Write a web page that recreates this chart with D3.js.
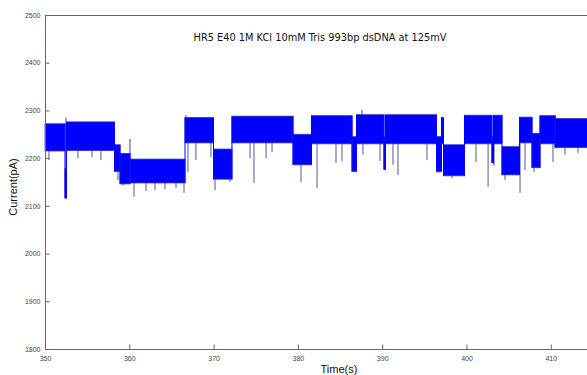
<!DOCTYPE html>
<html>
<head>
<meta charset="utf-8">
<script src="https://cdn.jsdelivr.net/npm/d3@7"></script>
<style>
    html, body { margin: 0; padding: 0; background: #fff; }
    svg { display: block; }
</style>
</head>
<body>
<div id="chart"></div>
<script>
// tick labels
const xTicks = [350, 360, 370, 380, 390, 400, 410];
const yTicks = [1800, 1900, 2000, 2100, 2200, 2300, 2400, 2500];

// current levels: each one runs from its start time to the next start (last one to traceEnd)
const levelStarts = [350.0, 352.37, 352.55, 358.24, 358.90, 360.08, 366.61, 369.99, 372.18, 379.42,
    381.61, 386.42, 386.95, 390.21, 390.39, 396.44, 397.03, 397.27, 399.76, 403.02,
    403.20, 404.21, 406.29, 407.77, 408.72, 410.50];
const traceEnd = 415;
const levelTops = [2272, 2178, 2276, 2228, 2210, 2198, 2285, 2219, 2288, 2250,
    2289, 2245, 2291, 2245, 2291, 2245, 2285, 2228, 2290, 2245,
    2290, 2224, 2286, 2252, 2289, 2283];
const levelBottoms = [2215, 2116, 2216, 2172, 2146, 2148, 2232, 2156, 2232, 2186,
    2230, 2172, 2230, 2176, 2230, 2172, 2230, 2163, 2230, 2190,
    2230, 2165, 2232, 2180, 2230, 2222];

// spikes that stick out of the band
const downSpikeTimes = [350.47, 353.91, 355.58, 356.64, 358.66, 359.25, 360.56, 361.98, 363.05, 364.23,
    365.54, 366.49, 366.96, 367.91, 369.69, 370.17, 371.95, 374.32, 374.79, 376.22,
    376.93, 380.37, 382.27, 384.52, 385.23, 387.72, 389.74, 391.28, 391.87, 395.31,
    396.62, 398.28, 401.13, 402.56, 403.27, 404.57, 406.35, 406.94, 408.01, 410.26,
    411.68, 413.23];
const downSpikeValues = [2196, 2200, 2202, 2196, 2154, 2142, 2119, 2131, 2133, 2135,
    2137, 2127, 2171, 2196, 2202, 2133, 2150, 2200, 2148, 2200,
    2213, 2150, 2137, 2190, 2194, 2207, 2194, 2186, 2165, 2196,
    2169, 2158, 2192, 2140, 2184, 2154, 2127, 2175, 2171, 2192,
    2207, 2211];
const upSpikeTimes = [352.49, 360.08, 366.73, 387.60, 410.50];
const upSpikeValues = [2285, 2240, 2290, 2301, 2290];

const title = "HR5 E40 1M KCl 10mM Tris 993bp dsDNA at 125mV";

class TraceChart
{
    constructor(selector)
    {
        this.width = 587;
        this.height = 375;
        this.frame = { left: 45, top: 15, bottom: 349 };
        this.pxPerSecond = 8.43;

        this.svg = d3.select(selector).append("svg")
            .attr("width", this.width)
            .attr("height", this.height);
        this.svg.append("rect")
            .attr("width", this.width)
            .attr("height", this.height)
            .attr("fill", "#fff");

        this.x = d3.scaleLinear()
            .domain([350, 420])
            .range([this.frame.left, this.frame.left + 70 * this.pxPerSecond]);
        this.y = d3.scaleLinear()
            .domain([1800, 2500])
            .range([this.frame.bottom, this.frame.top]);
    }

    draw()
    {
        this._initLevels();
        this._drawTrace();
        this._drawAxes();
        this._drawLabels();
    }

    _initLevels()
    {
        this.levels = levelStarts.map((t, i) => ({
            t0: t,
            t1: i + 1 < levelStarts.length ? levelStarts[i + 1] : traceEnd,
            top: levelTops[i],
            bottom: levelBottoms[i]
        }));
    }

    // level that is active at time t
    _levelAt(t)
    {
        const i = d3.bisectRight(levelStarts, t) - 1;
        return this.levels[Math.max(0, i)];
    }

    _drawTrace()
    {
        const g = this.svg.append("g").classed("trace", true);
        const levels = this.levels;

        // hair-like spikes below / above the dense band
        g.selectAll("line.down")
            .data(downSpikeTimes.map((t, i) => [t, downSpikeValues[i]]))
            .join("line")
            .attr("class", "down")
            .attr("x1", d => this.x(d[0]))
            .attr("x2", d => this.x(d[0]))
            .attr("y1", d => this.y(this._levelAt(d[0]).bottom + 10))
            .attr("y2", d => this.y(d[1]))
            .attr("stroke", "#55559c")
            .attr("stroke-width", 1);

        g.selectAll("line.up")
            .data(upSpikeTimes.map((t, i) => [t, upSpikeValues[i]]))
            .join("line")
            .attr("class", "up")
            .attr("x1", d => this.x(d[0]))
            .attr("x2", d => this.x(d[0]))
            .attr("y1", d => this.y(this._levelAt(d[0]).bottom + 10))
            .attr("y2", d => this.y(d[1]))
            .attr("stroke", "#3a3ab8")
            .attr("stroke-width", 1);

        g.selectAll("rect.level")
            .data(levels)
            .join("rect")
            .attr("class", "level")
            .attr("x", d => this.x(d.t0))
            .attr("width", d => Math.max(this.x(d.t1) - this.x(d.t0), 1))
            .attr("y", d => this.y(d.top))
            .attr("height", d => this.y(d.bottom) - this.y(d.top))
            .attr("fill", "#0000ff")
            .attr("stroke", "#3030c4")
            .attr("stroke-width", 0.8);

        // the signal jumps between levels
        g.selectAll("line.jump")
            .data(levels.slice(1).map((d, i) => [levels[i], d]))
            .join("line")
            .attr("class", "jump")
            .attr("x1", d => this.x(d[1].t0))
            .attr("x2", d => this.x(d[1].t0))
            .attr("y1", d => this.y(Math.max(d[0].top, d[1].top)))
            .attr("y2", d => this.y(Math.min(d[0].bottom, d[1].bottom)))
            .attr("stroke", "#0000ff")
            .attr("stroke-width", 1);
    }

    _drawAxes()
    {
        const axisColor = "#666";

        const xAxis = d3.axisBottom(this.x)
            .tickValues(xTicks)
            .tickFormat(d3.format("d"))
            .tickSizeInner(-4.5)
            .tickSizeOuter(0)
            .tickPadding(7);
        const gx = this.svg.append("g")
            .attr("transform", `translate(0, ${this.frame.bottom})`)
            .call(xAxis);

        const yAxis = d3.axisLeft(this.y)
            .tickValues(yTicks)
            .tickFormat(d3.format("d"))
            .tickSizeInner(-4.5)
            .tickSizeOuter(0)
            .tickPadding(4.5);
        const gy = this.svg.append("g")
            .attr("transform", `translate(${this.frame.left}, 0)`)
            .call(yAxis);

        [gx, gy].forEach(ax => {
            ax.select(".domain").attr("stroke", axisColor);
            ax.selectAll(".tick line").attr("stroke", axisColor);
            ax.selectAll(".tick text")
                .attr("fill", "#444")
                .style("font-family", "'Liberation Sans', Arial, sans-serif")
                .style("font-size", "7px");
        });

        // top border of the box
        this.svg.append("line")
            .attr("x1", this.frame.left)
            .attr("x2", this.width)
            .attr("y1", this.frame.top + 0.5)
            .attr("y2", this.frame.top + 0.5)
            .attr("stroke", axisColor);
    }

    _drawLabels()
    {
        this.svg.append("text")
            .attr("x", 320)
            .attr("y", 41)
            .attr("text-anchor", "middle")
            .style("font-family", "'DejaVu Sans', Verdana, sans-serif")
            .style("font-size", "9.8px")
            .attr("fill", "#111")
            .text(title);

        this.svg.append("text")
            .attr("x", 339)
            .attr("y", 373)
            .attr("text-anchor", "middle")
            .style("font-family", "'Liberation Sans', Arial, sans-serif")
            .style("font-size", "11px")
            .attr("fill", "#111")
            .text("Time(s)");

        this.svg.append("text")
            .attr("transform", "translate(17, 187) rotate(-90)")
            .attr("text-anchor", "middle")
            .style("font-family", "'Liberation Sans', Arial, sans-serif")
            .style("font-size", "11px")
            .attr("fill", "#111")
            .text("Current(pA)");
    }
}

new TraceChart("#chart").draw();
</script>
</body>
</html>
